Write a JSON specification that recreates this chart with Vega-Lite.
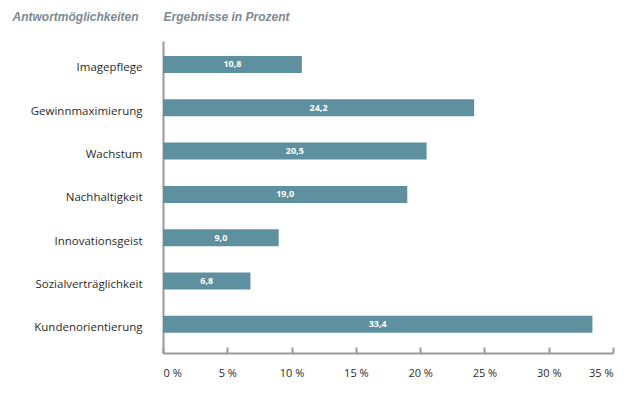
{
  "$schema": "https://vega.github.io/schema/vega-lite/v6.json",
  "autosize": "none",
  "width": 450,
  "height": 312,
  "padding": {"left": 163, "top": 41, "right": 22, "bottom": 40},
  "background": "white",
  "config": {
    "locale": {"number": {"decimal": ",", "thousands": ".", "grouping": [3], "currency": ["", " €"]}},
    "view": {"stroke": null},
    "font": "Open Sans"
  },
  "data": {
    "values": [
      {"antwort": "Imagepflege", "wert": 10.8},
      {"antwort": "Gewinnmaximierung", "wert": 24.2},
      {"antwort": "Wachstum", "wert": 20.5},
      {"antwort": "Nachhaltigkeit", "wert": 19.0},
      {"antwort": "Innovationsgeist", "wert": 9.0},
      {"antwort": "Sozialverträglichkeit", "wert": 6.8},
      {"antwort": "Kundenorientierung", "wert": 33.4}
    ]
  },
  "encoding": {
    "y": {
      "field": "antwort",
      "type": "nominal",
      "sort": null,
      "scale": {"paddingInner": 0.607, "paddingOuter": 0.406, "align": 0.426},
      "axis": {
        "title": "Antwortmöglichkeiten",
        "titleAngle": 0,
        "titleAlign": "left",
        "titleBaseline": "middle",
        "titleX": -151,
        "titleY": -25,
        "titleFont": "Liberation Sans",
        "titleFontStyle": "italic",
        "titleFontWeight": "bold",
        "titleFontSize": 12,
        "titleColor": "#7d8992",
        "ticks": false,
        "domainColor": "#9a9a9a",
        "domainWidth": 2,
        "labelFont": "Open Sans",
        "labelFontSize": 11.5,
        "labelColor": "#2b2b2b",
        "labelPadding": 21,
        "labelOffset": 4
      }
    }
  },
  "layer": [
    {
      "mark": {"type": "bar", "color": "#5e909f"},
      "encoding": {
        "x": {
          "field": "wert",
          "type": "quantitative",
          "scale": {"domain": [0, 35], "nice": false},
          "axis": {
            "values": [0, 5, 10, 15, 20, 25, 30, 35],
            "labelExpr": "datum.value + ' %'",
            "grid": false,
            "title": "Ergebnisse in Prozent",
            "titleAnchor": "start",
            "titleAlign": "left",
            "titleBaseline": "middle",
            "titleX": 0,
            "titleY": -337,
            "titleFont": "Liberation Sans",
            "titleFontStyle": "italic",
            "titleFontWeight": "bold",
            "titleFontSize": 12,
            "titleColor": "#7d8992",
            "domainColor": "#9a9a9a",
            "domainWidth": 2,
            "tickColor": "#9a9a9a",
            "tickWidth": 2,
            "tickSize": -6,
            "labelFont": "Open Sans",
            "labelFontSize": 11,
            "labelColor": "#2b2b2b",
            "labelPadding": 20
          }
        }
      }
    },
    {
      "mark": {"type": "text", "color": "white", "font": "Open Sans", "fontWeight": "bold", "fontSize": 9, "baseline": "middle"},
      "encoding": {
        "x": {"field": "wert", "type": "quantitative", "stack": "zero", "bandPosition": 0.5},
        "text": {"field": "wert", "type": "quantitative", "format": ".1f"}
      }
    }
  ]
}
